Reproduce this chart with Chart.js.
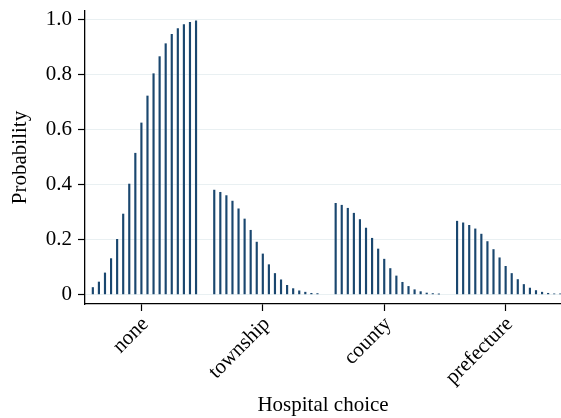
<!DOCTYPE html>
<html>
<head>
<meta charset="utf-8">
<script src="https://cdn.jsdelivr.net/npm/chart.js@4/dist/chart.umd.min.js"></script>
<style>
  html, body { margin: 0; padding: 0; background: #ffffff; }
  #wrap { width: 561px; height: 418px; }
</style>
</head>
<body>
<div id="wrap"><canvas id="chart" width="561" height="418"></canvas></div>
<script>
// Hospital choice categories (x-axis tick labels)
const categories = ['none', 'township', 'county', 'prefecture'];

// Predicted probabilities, 18 spikes per category
const probNone       = [0.025, 0.045, 0.078, 0.130, 0.200, 0.292, 0.401, 0.513, 0.623, 0.721, 0.802, 0.864, 0.911, 0.945, 0.966, 0.980, 0.989, 0.994];
const probTownship   = [0.379, 0.371, 0.359, 0.339, 0.311, 0.274, 0.233, 0.190, 0.147, 0.108, 0.076, 0.053, 0.033, 0.021, 0.013, 0.008, 0.004, 0.003];
const probCounty     = [0.331, 0.324, 0.313, 0.295, 0.272, 0.241, 0.204, 0.165, 0.128, 0.094, 0.067, 0.044, 0.029, 0.017, 0.010, 0.005, 0.003, 0.001];
const probPrefecture = [0.266, 0.260, 0.251, 0.238, 0.219, 0.192, 0.163, 0.133, 0.102, 0.076, 0.054, 0.036, 0.023, 0.014, 0.008, 0.004, 0.002, 0.002];

// y-axis tick values
const yTicks = [0, 0.2, 0.4, 0.6, 0.8, 1.0];

// spacing of spikes inside a category, and the spike sitting on the tick
const step = 0.05;
const anchorIndex = 8;

const series = [probNone, probTownship, probCounty, probPrefecture];
const points = [];
series.forEach((vals, i) => {
  vals.forEach((v, j) => {
    points.push({ x: i + (j - anchorIndex) * step, y: v });
  });
});

const serif = "'Liberation Serif', 'Times New Roman', serif";
const ink = '#000000';

new Chart(document.getElementById('chart'), {
  type: 'bar',
  data: {
    datasets: [{
      data: points,
      backgroundColor: '#1a476f',
      borderWidth: 0,
      barThickness: 1.5
    }]
  },
  options: {
    responsive: false,
    animation: false,
    devicePixelRatio: 1,
    layout: { padding: { top: 11, right: 0, bottom: 0, left: 0 } },
    plugins: {
      legend: { display: false },
      tooltip: { enabled: false }
    },
    scales: {
      x: {
        type: 'linear',
        min: -0.4646,
        max: 3.456,
        offset: false,
        afterBuildTicks: (scale) => {
          scale.ticks = categories.map((c, i) => ({ value: i }));
        },
        afterFit: (scale) => {
          scale.height = 114;
          scale.paddingLeft = 0;
          scale.paddingRight = 0;
        },
        ticks: {
          autoSkip: false,
          minRotation: 45,
          maxRotation: 45,
          padding: 1,
          labelOffset: 4,
          color: ink,
          font: { family: serif, size: 21 },
          callback: (v) => categories[Math.round(v)]
        },
        grid: {
          offset: false,
          drawOnChartArea: false,
          drawTicks: true,
          tickLength: 7,
          tickColor: ink,
          tickWidth: 1.2
        },
        border: { display: true, color: ink, width: 1.3 },
        title: {
          display: true,
          text: 'Hospital choice',
          color: ink,
          font: { family: serif, size: 21 },
          padding: { top: 4, bottom: 0 }
        }
      },
      y: {
        min: -0.0349,
        max: 1.0298,
        afterBuildTicks: (scale) => {
          scale.ticks = yTicks.map(v => ({ value: v }));
        },
        afterFit: (scale) => {
          scale.width = 85;
          scale.paddingTop = 0;
          scale.paddingBottom = 0;
        },
        ticks: {
          padding: 6,
          color: ink,
          font: { family: serif, size: 21 },
          callback: (v) => (v === 0 ? '0' : v.toFixed(1))
        },
        grid: {
          color: '#e9f0f2',
          lineWidth: 1,
          drawTicks: true,
          tickLength: 7,
          tickColor: ink,
          tickWidth: 1.2
        },
        border: { display: true, color: ink, width: 1.3 },
        title: {
          display: true,
          text: 'Probability',
          color: ink,
          font: { family: serif, size: 21 },
          padding: { top: 8, bottom: 0 }
        }
      }
    }
  }
});
</script>
</body>
</html>
